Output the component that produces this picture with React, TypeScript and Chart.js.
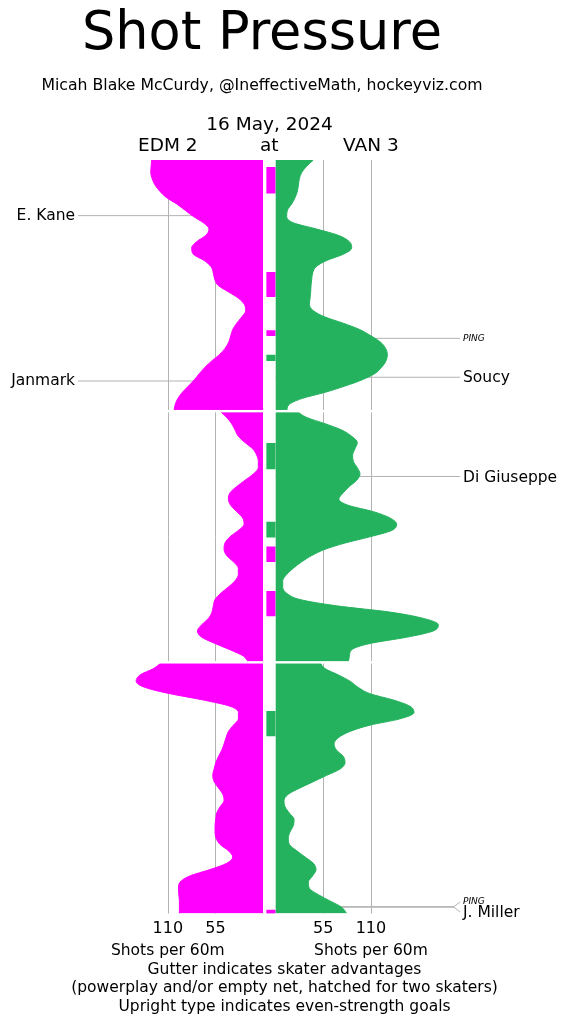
import React, { useEffect, useRef } from "react";
import { Chart, registerables } from "chart.js";

Chart.register(...registerables);

// ---------- data ----------
const PERIOD_STARTS = [0, 20, 40];
const OFFSETS = [0, 0.5, 1, 1.5, 2, 2.5, 3, 3.5, 4, 4.5, 5, 5.5, 6, 6.5, 7, 7.5, 8, 8.5, 9, 9.5, 10,
  10.5, 11, 11.5, 12, 12.5, 13, 13.5, 14, 14.5, 15, 15.5, 16, 16.5, 17, 17.5, 18, 18.5, 19, 19.5, 20];

const EDM_P1 = [128.6, 129.3, 129.7, 128, 124.7, 119, 111.3, 99.7, 90, 80.4, 68.9, 62.4, 66, 76.6, 82.4, 80.5, 68, 60, 57.4, 55.8, 51.6,
  40, 28.5, 21.5, 20, 24.6, 30.4, 35, 37.3, 39.6, 43.9, 50.4, 59.3, 67, 73.5, 79.3, 86.2, 93.2, 98.5, 101.6, 102.8];
const EDM_P2 = [49.6, 41.9, 36.2, 32.3, 28.5, 20.8, 11.9, 7.3, 5.4, 5.4, 11.2, 20.8, 30.4, 38.1, 40, 37.3, 30.4, 23.5, 21.9, 28.5, 38.1,
  43.9, 45, 41.9, 34.2, 28.5, 28.5, 32.3, 40, 48.9, 55.4, 57.4, 58.9, 63.1, 70.8, 75.8, 70.8, 55.4, 38.1, 22.7, 16.9];
const EDM_P3 = [117, 126.6, 142, 146.6, 136.2, 107.3, 68.9, 38, 28.4, 28.4, 34.2, 40, 42.7, 45, 47.7, 51.5, 54.6, 56.5, 58.1, 56.5, 51.5,
  46.5, 45, 49.6, 53.5, 54.6, 55.4, 55.4, 54.2, 49.6, 40, 35, 41.9, 61.2, 84.2, 95.8, 97.7, 97.3, 96.6, 96.6, 96.6];

const VAN_P1 = [43.5, 35.8, 30, 27.3, 26.2, 25, 22.3, 18.5, 13.5, 12.7, 20.4, 47.4, 72.4, 85.1, 87.8, 78.2, 58.9, 46.6, 42.7, 41.6, 40.8,
  40.4, 39.7, 38.9, 43.5, 57, 78.2, 97, 110, 121, 127, 129, 127.4, 122.4, 114.7, 100, 80, 57, 30, 15, 12.7];
const VAN_P2 = [24.3, 35.8, 57, 76.2, 87.8, 94.3, 91.6, 88.9, 89.7, 94.3, 97.4, 93.6, 85, 78, 73, 84, 112.8, 132, 139.8, 134, 109,
  80.1, 57, 41.6, 30, 20.4, 12.7, 8.1, 8.1, 12.7, 28.1, 70.5, 132, 170.5, 187.9, 182.1, 151.3, 109, 87.8, 85.1, 83.9];
const VAN_P3 = [51.2, 57, 72.4, 85.9, 95.5, 109, 135.9, 155.2, 159.8, 143.6, 109, 85.9, 72.4, 67.4, 70.4, 78.2, 80.1, 74.3, 58.9, 43.5, 28.1,
  14.6, 9.6, 10.8, 15.8, 21.2, 20.4, 16.6, 14.6, 15.8, 24.3, 33.9, 43.5, 46.6, 42.7, 37.7, 38.9, 49.3, 62.7, 76.2, 82];

// skater advantages (minutes of game)
const EDM_ADV_START = [0.58, 8.94, 13.58, 30.8, 34.35, 59.73];
const EDM_ADV_END = [2.65, 10.88, 13.98, 31.99, 36.31, 60];
const VAN_ADV_START = [15.54, 22.57, 28.83, 43.9];
const VAN_ADV_END = [15.97, 24.59, 30.03, 45.86];

// goals
const EDM_GOAL_TIMES = [4.43, 17.6];
const EDM_GOAL_NAMES = ["E. Kane", "Janmark"];
const EDM_GOAL_PP = [false, false];
const VAN_GOAL_TIMES = [14.2, 17.3, 25.2, 59.45, 59.5];
const VAN_GOAL_NAMES = ["PING", "Soucy", "Di Giuseppe", "PING", "J. Miller"];
const VAN_GOAL_PP = [true, false, false, true, false];

const GRID_TICKS = [110, 55];

const TITLE = "Shot Pressure";
const SUBTITLE = "Micah Blake McCurdy, @IneffectiveMath, hockeyviz.com";
const DATE = "16 May, 2024";
const HOME = "EDM 2";
const AT = "at";
const AWAY = "VAN 3";
const AXIS_TITLE = "Shots per 60m";
const NOTES = [
  "Gutter indicates skater advantages",
  "(powerplay and/or empty net, hatched for two skaters)",
  "Upright type indicates even-strength goals",
];

// ---------- styling / layout ----------
const W = 569;
const H = 1024;
const EDM_COLOR = "#ff00ff";
const VAN_COLOR = "#25b25e";
const GRID_COLOR = "#b3b3b3";
const FONT = "'DejaVu Sans', 'Liberation Sans', sans-serif";
const AREA_LEFT = 100;
const AREA_RIGHT = 470;
const AREA_TOP = 160;
const AREA_BOTTOM = 913.5;
const PX_PER_SHOT = 47.6 / 55;
const EDM_ZERO_PX = 263;
const VAN_ZERO_PX = 275.7;
const GUTTER_PX = 269.2;

const PERIODS_EDM = [EDM_P1, EDM_P2, EDM_P3];
const PERIODS_VAN = [VAN_P1, VAN_P2, VAN_P3];

function periodData(values: number[], p: number) {
  return values.map((v, i) => ({ x: v, y: PERIOD_STARTS[p] + OFFSETS[i] }));
}

function spreadLabels(ys: number[], gap: number) {
  const idx = ys.map((y, i) => i).sort((a, b) => ys[a] - ys[b]);
  const out = ys.slice();
  const groups: number[][] = [];
  idx.forEach((i) => {
    const g = groups[groups.length - 1];
    if (g && ys[i] - ys[g[g.length - 1]] < gap) g.push(i);
    else groups.push([i]);
  });
  groups.forEach((g) => {
    if (g.length < 2) return;
    const mean = g.reduce((s, i) => s + ys[i], 0) / g.length;
    const start = mean - ((g.length - 1) * gap) / 2;
    g.forEach((i, k) => (out[i] = start + k * gap));
  });
  return out;
}

const overlayPlugin = {
  id: "overlay",
  beforeDatasetsDraw(chart: any) {
    const ctx = chart.ctx;
    const { top, bottom } = chart.chartArea;
    const xL = chart.scales.xL;
    const xR = chart.scales.xR;
    const y = chart.scales.y;
    ctx.save();
    ctx.strokeStyle = GRID_COLOR;
    ctx.lineWidth = 1;
    GRID_TICKS.forEach((t) => {
      [xL.getPixelForValue(t), xR.getPixelForValue(t)].forEach((px) => {
        ctx.beginPath();
        ctx.moveTo(Math.round(px) + 0.5, top);
        ctx.lineTo(Math.round(px) + 0.5, bottom);
        ctx.stroke();
      });
    });
    const edmY = EDM_GOAL_TIMES.map((t) => y.getPixelForValue(t));
    const edmLab = spreadLabels(edmY, 11);
    edmY.forEach((py, i) => {
      ctx.beginPath();
      ctx.moveTo(xL.getPixelForValue(0), py);
      ctx.lineTo(84, py);
      ctx.lineTo(78, edmLab[i]);
      ctx.stroke();
    });
    const vanY = VAN_GOAL_TIMES.map((t) => y.getPixelForValue(t));
    const vanLab = spreadLabels(vanY, 10);
    vanY.forEach((py, i) => {
      ctx.beginPath();
      ctx.moveTo(xR.getPixelForValue(0), py);
      ctx.lineTo(454, py);
      ctx.lineTo(460, vanLab[i]);
      ctx.stroke();
    });
    ctx.restore();
  },
  afterDatasetsDraw(chart: any) {
    const ctx = chart.ctx;
    const { left, right } = chart.chartArea;
    const y = chart.scales.y;
    ctx.save();
    ctx.fillStyle = "#ffffff";
    PERIOD_STARTS.slice(1).forEach((t) => {
      const py = y.getPixelForValue(t);
      ctx.fillRect(left - 10, py - 1.2, right - left + 20, 2.4);
    });
    ctx.restore();
  },
  afterDraw(chart: any) {
    const ctx = chart.ctx;
    const xL = chart.scales.xL;
    const xR = chart.scales.xR;
    const y = chart.scales.y;
    ctx.save();
    ctx.fillStyle = "#000";
    ctx.textBaseline = "alphabetic";
    ctx.textAlign = "center";
    ctx.font = `52.5px ${FONT}`;
    ctx.fillText(TITLE, 262, 49);
    ctx.font = `15.7px ${FONT}`;
    ctx.fillText(SUBTITLE, 262, 90);
    ctx.font = `18.5px ${FONT}`;
    ctx.fillText(DATE, 269.5, 129.5);
    ctx.fillText(HOME, xL.getPixelForValue(110), 150.5);
    ctx.fillText(AT, GUTTER_PX, 150.5);
    ctx.fillText(AWAY, xR.getPixelForValue(110), 150.5);

    ctx.font = `16px ${FONT}`;
    GRID_TICKS.forEach((t) => {
      ctx.fillText(String(t), xL.getPixelForValue(t), 933);
      ctx.fillText(String(t), xR.getPixelForValue(t), 933);
    });
    ctx.font = `15.5px ${FONT}`;
    ctx.fillText(AXIS_TITLE, xL.getPixelForValue(110), 955);
    ctx.fillText(AXIS_TITLE, xR.getPixelForValue(110), 955);
    ctx.font = `15.5px ${FONT}`;
    NOTES.forEach((n, i) => ctx.fillText(n, W / 2, 974 + i * 18.3));

    ctx.textBaseline = "middle";
    const edmLab = spreadLabels(EDM_GOAL_TIMES.map((t) => y.getPixelForValue(t)), 11);
    ctx.textAlign = "right";
    EDM_GOAL_NAMES.forEach((n, i) => {
      ctx.font = EDM_GOAL_PP[i] ? `italic 9px ${FONT}` : `15.5px ${FONT}`;
      ctx.fillText(n, 75, edmLab[i]);
    });
    const vanLab = spreadLabels(VAN_GOAL_TIMES.map((t) => y.getPixelForValue(t)), 10);
    ctx.textAlign = "left";
    VAN_GOAL_NAMES.forEach((n, i) => {
      ctx.font = VAN_GOAL_PP[i] ? `italic 9px ${FONT}` : `15.5px ${FONT}`;
      ctx.fillText(n, 463, vanLab[i] + (VAN_GOAL_PP[i] ? 0 : 1));
    });
    ctx.restore();
  },
};

export default function App() {
  const ref = useRef<HTMLCanvasElement | null>(null);

  useEffect(() => {
    if (!ref.current) return;
    const datasets: any[] = [];
    PERIODS_EDM.forEach((vals, p) => {
      datasets.push({
        type: "line",
        indexAxis: "y",
        xAxisID: "xL",
        yAxisID: "y",
        data: periodData(vals, p),
        fill: "origin",
        backgroundColor: EDM_COLOR,
        borderColor: EDM_COLOR,
        borderWidth: 1,
        pointRadius: 0,
        cubicInterpolationMode: "monotone",
      });
    });
    PERIODS_VAN.forEach((vals, p) => {
      datasets.push({
        type: "line",
        indexAxis: "y",
        xAxisID: "xR",
        yAxisID: "y",
        data: periodData(vals, p),
        fill: "origin",
        backgroundColor: VAN_COLOR,
        borderColor: VAN_COLOR,
        borderWidth: 1,
        pointRadius: 0,
        cubicInterpolationMode: "monotone",
      });
    });
    datasets.push({
      type: "bar",
      indexAxis: "x",
      xAxisID: "xG",
      yAxisID: "y",
      data: EDM_ADV_START.map((s, i) => ({ x: 0, y: [s, EDM_ADV_END[i]] })),
      backgroundColor: EDM_COLOR,
      borderWidth: 0,
      barThickness: 8.5,
      grouped: false,
    });
    datasets.push({
      type: "bar",
      indexAxis: "x",
      xAxisID: "xG",
      yAxisID: "y",
      data: VAN_ADV_START.map((s, i) => ({ x: 0, y: [s, VAN_ADV_END[i]] })),
      backgroundColor: VAN_COLOR,
      borderWidth: 0,
      barThickness: 8.5,
      grouped: false,
    });

    const chart = new Chart(ref.current, {
      type: "line",
      data: { datasets },
      options: {
        animation: false,
        responsive: false,
        devicePixelRatio: 1,
        events: [],
        layout: {
          padding: { left: AREA_LEFT, right: W - AREA_RIGHT, top: AREA_TOP, bottom: H - AREA_BOTTOM },
        },
        plugins: { legend: { display: false }, tooltip: { enabled: false }, title: { display: false } },
        scales: {
          y: { type: "linear", axis: "y", min: 0, max: 60, reverse: true, display: false, bounds: "data" },
          xL: {
            type: "linear", axis: "x", reverse: true, display: false, bounds: "data",
            min: -(AREA_RIGHT - EDM_ZERO_PX) / PX_PER_SHOT,
            max: (EDM_ZERO_PX - AREA_LEFT) / PX_PER_SHOT,
          },
          xR: {
            type: "linear", axis: "x", display: false, bounds: "data",
            min: -(VAN_ZERO_PX - AREA_LEFT) / PX_PER_SHOT,
            max: (AREA_RIGHT - VAN_ZERO_PX) / PX_PER_SHOT,
          },
          xG: {
            type: "linear", axis: "x", display: false, bounds: "data",
            min: -(GUTTER_PX - AREA_LEFT),
            max: AREA_RIGHT - GUTTER_PX,
          },
        },
      } as any,
      plugins: [overlayPlugin],
    });
    return () => chart.destroy();
  }, []);

  return (
    <div style={{ position: "absolute", left: 0, top: 0, width: W, height: H, background: "#fff" }}>
      <canvas ref={ref} width={W} height={H} style={{ display: "block" }} />
    </div>
  );
}
